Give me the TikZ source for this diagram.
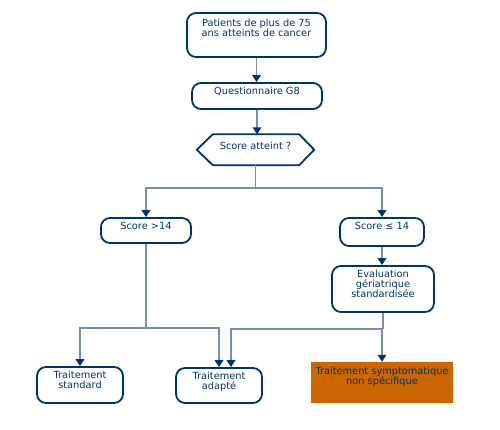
\documentclass[tikz,border=0pt]{standalone}
\usepackage{fontspec}
\setmainfont{DejaVu Sans}
\usetikzlibrary{arrows.meta,calc,positioning}
\definecolor{navy}{RGB}{0,51,102}
\definecolor{linec}{RGB}{118,142,175}
\definecolor{orangec}{RGB}{204,102,0}
\begin{document}
\begin{tikzpicture}[x=1pt,y=-1pt,
  box/.style={draw=navy,line width=1.8pt,rounded corners=9pt,inner sep=0pt},
  txt/.style={text=navy,font=\fontsize{9.8}{10.2}\selectfont,align=center,inner sep=0pt,anchor=north,yshift=-2.5pt},
  line/.style={draw=linec,line width=1.8pt},
  arr/.style={draw=linec,line width=1.8pt,-{Triangle[width=8.5pt,length=7pt,color=navy]}}]
\useasboundingbox (0,0) rectangle (500,430);
% boxes
\node[box,minimum width=139pt,minimum height=44pt] (A) at (256.5,35) {};
\node[txt] (At) at (256.5,16) {Patients de plus de 75\\ans atteints de cancer};
\node[box,minimum width=130pt,minimum height=26pt] (B) at (257,96) {};
\node[txt] (Bt) at (257,84) {Questionnaire G8};
\node[inner sep=0pt,minimum width=117pt,minimum height=30.5pt] (H) at (255.5,149.75) {};
\draw[draw=navy,line width=1.8pt] (H.west) -- ($(H.north west)+(16,0)$) -- ($(H.north east)+(-15,0)$) -- (H.east) -- ($(H.south east)+(-15,0)$) -- ($(H.south west)+(16,0)$) -- cycle;
\node[txt] (Ht) at (255.5,139.5) {Score atteint ?};
\node[box,minimum width=90pt,minimum height=25pt] (S1) at (146,230.5) {};
\node[txt] (S1t) at (146,219.5) {Score >14};
\node[box,minimum width=84pt,minimum height=28pt] (S2) at (382,232) {};
\node[txt] (S2t) at (382,219.5) {Score ≤ 14};
\node[box,minimum width=102pt,minimum height=46pt] (E) at (383,289) {};
\node[txt] (Et) at (383,267) {Evaluation\\gériatrique\\standardisée};
\node[box,minimum width=86pt,minimum height=36pt] (T1) at (80,385) {};
\node[txt] (T1t) at (80,368) {Traitement\\standard};
\node[box,minimum width=86pt,minimum height=35pt] (T2) at (219,385.5) {};
\node[txt] (T2t) at (219,369.5) {Traitement\\adapté};
\node[fill=orangec,minimum width=142pt,minimum height=41pt,inner sep=0pt] (T3) at (382,382.5) {};
\node[txt] (T3t) at (382,364.5) {Traitement symptomatique\\non spécifique};
% connectors
\draw[arr] (A.south) -- (B.north -| A.south);
\draw[arr] (B.south) -- (H.north -| B.south);
\coordinate (j1) at (255.5,188);
\draw[line] (H.south) -- (j1);
\draw[arr] (j1) -| (S1.north);
\draw[arr] (j1) -| (S2.north);
\draw[arr] (S2.south) -- (E.north -| S2.south);
\coordinate (j2) at (146,328);
\draw[line] (S1.south) -- (j2);
\draw[arr] (j2) -| (T1.north);
\draw[arr] (j2) -| (T2.north);
\coordinate (j3) at (383,329);
\draw[line] (E.south) -- (j3);
\draw[arr] (j3) -| ([xshift=12pt]T2.north);
\draw[arr] (j3) -| (T3.north);
\end{tikzpicture}
\end{document}
